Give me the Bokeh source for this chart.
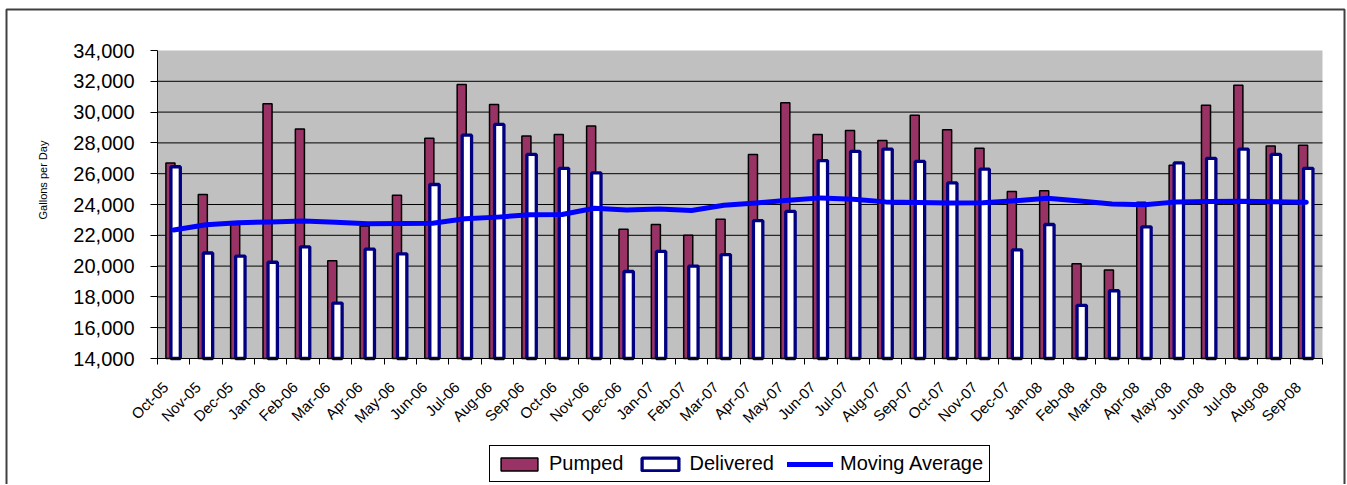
import math
from bokeh.plotting import figure
from bokeh.models import (FixedTicker, NumeralTickFormatter, Legend, LegendItem, Label,
                          BoxAnnotation, ColumnDataSource, Range1d)
from bokeh.embed import file_html
from bokeh.resources import INLINE

months = ["Oct-05", "Nov-05", "Dec-05", "Jan-06", "Feb-06", "Mar-06", "Apr-06", "May-06",
          "Jun-06", "Jul-06", "Aug-06", "Sep-06", "Oct-06", "Nov-06", "Dec-06", "Jan-07",
          "Feb-07", "Mar-07", "Apr-07", "May-07", "Jun-07", "Jul-07", "Aug-07", "Sep-07",
          "Oct-07", "Nov-07", "Dec-07", "Jan-08", "Feb-08", "Mar-08", "Apr-08", "May-08",
          "Jun-08", "Jul-08", "Aug-08", "Sep-08"]

pumped = [26700, 24650, 22700, 30550, 28900, 20350, 22600, 24600, 28300, 31800, 30500, 28450,
          28550, 29100, 22400, 22700, 22000, 23050, 27250, 30600, 28550, 28800, 28150, 29800,
          28850, 27650, 24850, 24900, 20150, 19750, 24150, 26550, 30450, 31750, 27800, 27850]

delivered = [26450, 20850, 20650, 20250, 21250, 17600, 21100, 20800, 25300, 28500, 29200, 27250,
             26350, 26050, 19650, 20950, 20000, 20750, 22950, 23550, 26850, 27450, 27600, 26800,
             25400, 26300, 21050, 22700, 17450, 18400, 22550, 26700, 27000, 27600, 27250, 26350]

moving_avg = [22350, 22680, 22820, 22870, 22930, 22840, 22750, 22770, 22780, 23070, 23180, 23330,
              23350, 23760, 23650, 23700, 23610, 23950, 24100, 24280, 24430, 24340, 24170, 24130,
              24090, 24110, 24240, 24400, 24220, 24030, 23980, 24170, 24190, 24210, 24180, 24150]

y_ticks = list(range(14000, 34001, 2000))
y_min, y_max = 14000, 34000

n = len(months)
idx = list(range(n))
src = ColumnDataSource(dict(
    xp=[i + 0.40 for i in idx],
    xd=[i + 0.56 for i in idx],
    xc=[i + 0.5 for i in idx],
    pumped=pumped, delivered=delivered, avg=moving_avg))

# canvas size and where the plotting area sits on it (pixels)
W, H = 1346, 484
PL, PR, PT, PB = 157, 1322, 50, 358
xs = n / (PR - PL)                 # data units per pixel (x)
ys = (y_max - y_min) / (PB - PT)   # data units per pixel (y)
x_range = Range1d(0 - PL * xs, n + (W - PR) * xs)
y_range = Range1d(y_min - (H - PB) * ys, y_max + PT * ys)

p = figure(width=W, height=H, x_range=x_range, y_range=y_range,
           output_backend="svg", toolbar_location=None, min_border=0)
p.background_fill_color = "white"
p.border_fill_color = "white"
p.outline_line_color = None

FONT = "Liberation Sans"

# gray plotting area
p.add_layout(BoxAnnotation(left=0, right=n, bottom=y_min, top=y_max, fill_color="#C0C0C0",
                           fill_alpha=1.0, line_color=None, level="image"))

# horizontal gridlines
grid_y = y_ticks[1:-1]
p.segment(x0=[0] * len(grid_y), x1=[n] * len(grid_y), y0=grid_y, y1=grid_y,
          line_color="black", line_width=1, level="underlay")
p.xgrid.visible = False
p.ygrid.visible = False

# x axis: labels under each month, tick marks between months
label_pos = [i + 0.25 for i in idx]
p.xaxis.fixed_location = y_min
p.xaxis.bounds = (0, n)
p.xaxis.ticker = FixedTicker(ticks=label_pos, minor_ticks=list(range(n + 1)))
p.xaxis.major_label_overrides = {c: m for c, m in zip(label_pos, months)}
p.xaxis.major_tick_line_color = None
p.xaxis.minor_tick_line_color = "black"
p.xaxis.minor_tick_out = 6
p.xaxis.minor_tick_in = 0
p.xaxis.axis_line_color = "black"
p.xaxis.major_label_orientation = math.pi / 4
p.xaxis.major_label_text_font = FONT
p.xaxis.major_label_text_font_size = "15px"
p.xaxis.major_label_text_color = "black"
p.xaxis.major_label_standoff = 20

# y axis
p.yaxis.fixed_location = 0
p.yaxis.bounds = (y_min, y_max)
p.yaxis.ticker = FixedTicker(ticks=y_ticks)
p.yaxis.formatter = NumeralTickFormatter(format="0,0")
p.yaxis.major_tick_out = 7
p.yaxis.major_tick_in = 0
p.yaxis.minor_tick_line_color = None
p.yaxis.axis_line_color = "black"
p.yaxis.major_tick_line_color = "black"
p.yaxis.major_label_text_font = FONT
p.yaxis.major_label_text_font_size = "20px"
p.yaxis.major_label_text_color = "black"
p.yaxis.major_label_standoff = 16

r1 = p.vbar(x="xp", top="pumped", bottom=y_min, width=0.28, fill_color="#993366",
            line_color="black", line_width=1.5, source=src)
r2 = p.vbar(x="xd", top="delivered", bottom=y_min, width=0.29, fill_color="white",
            line_color="#000080", line_width=3.3, source=src)
r3 = p.line(x="xc", y="avg", line_color="#0000FF", line_width=5, line_join="round",
            line_cap="round", source=src)

legend = Legend(items=[LegendItem(label="Pumped", renderers=[r1]),
                       LegendItem(label="Delivered", renderers=[r2]),
                       LegendItem(label="Moving Average", renderers=[r3])],
                location=(489, H - 482), orientation="horizontal",
                label_text_font=FONT, label_text_font_size="20px", label_text_color="black",
                glyph_width=46, glyph_height=16, label_standoff=7, spacing=13,
                padding=6, margin=0, border_line_color="black", border_line_width=1,
                border_line_alpha=1.0,
                background_fill_color="white", background_fill_alpha=1.0)
p.add_layout(legend)

ylab = Label(x=42.5, y=H - 179.5, x_units="screen", y_units="screen", text="Gallons per Day",
             angle=math.pi / 2, text_align="center", text_baseline="middle",
             text_font=FONT, text_font_size="11px", text_color="black")
p.add_layout(ylab)

# outer chart border
p.add_layout(BoxAnnotation(left=6, right=W - 2, top=9, bottom=H + 6,
                           left_units="canvas", right_units="canvas",
                           top_units="canvas", bottom_units="canvas",
                           fill_alpha=0, line_color="#404040", line_alpha=1.0,
                           line_width=2))

open("out.html", "w").write(file_html(p, INLINE))
